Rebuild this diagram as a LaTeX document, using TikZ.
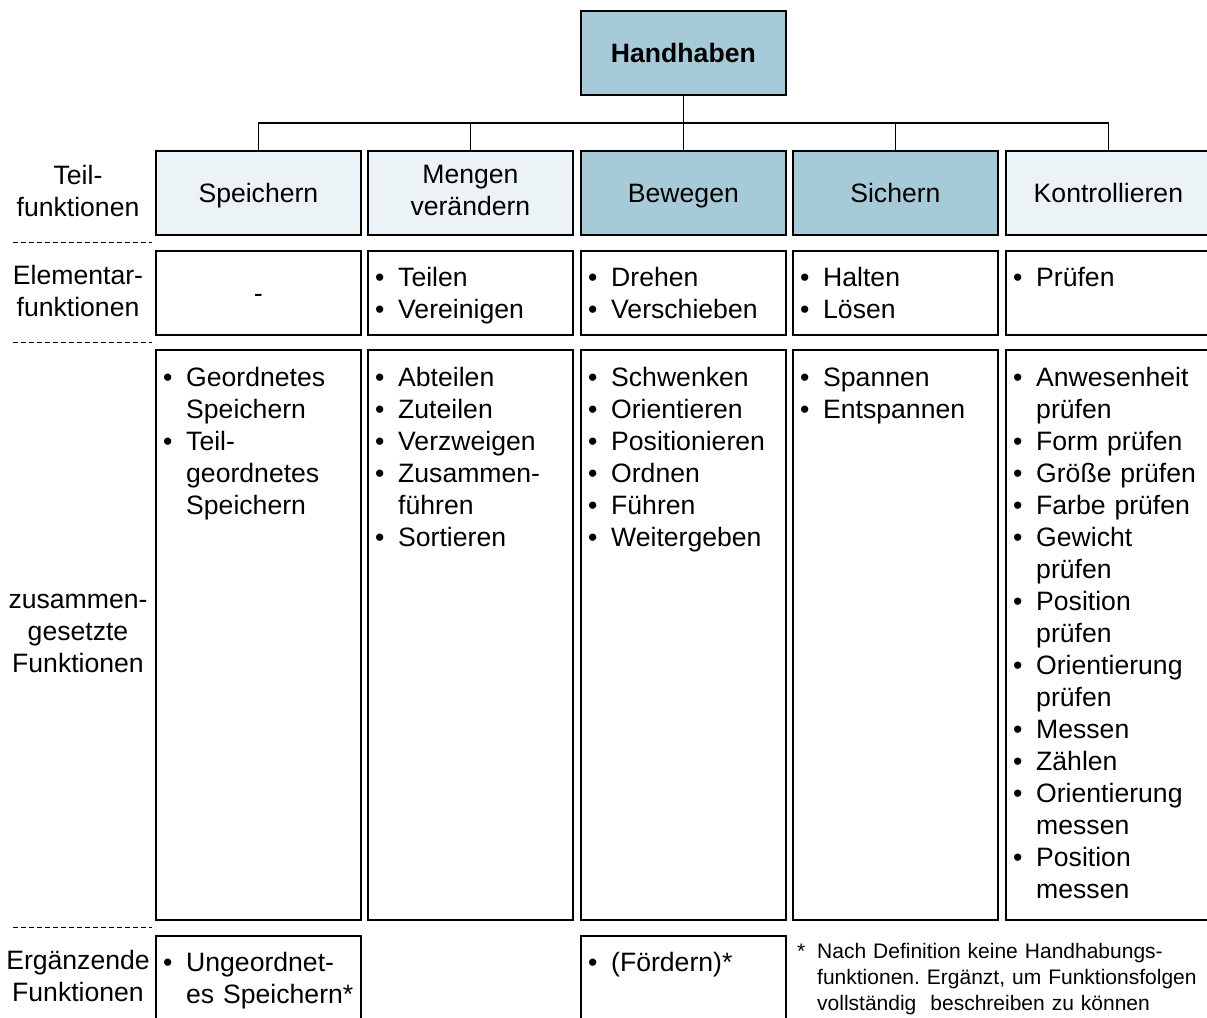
\documentclass[tikz,border=0pt]{standalone}
\usepackage{fontspec}
\setmainfont{Liberation Sans}
\frenchspacing
\newcommand\mainsize{\fontsize{26.6pt}{32pt}\selectfont}
\newcommand\notesize{\fontsize{21pt}{26pt}\selectfont}
% bullet entry with hanging indent for continuation lines
\newcommand\itm[1]{\hangindent=23pt\hangafter=1\noindent\makebox[23pt][l]{\textbullet}#1\par}
% invisible rule that gives every heading line the same height and depth
\newcommand\hstrut{\rule[-5pt]{0pt}{29pt}}
\definecolor{darkcell}{RGB}{167,202,216}
\definecolor{lightcell}{RGB}{235,243,246}
\begin{document}
\begin{tikzpicture}[x=1pt,y=-1pt,
  cell/.style={draw, line width=1.8pt, anchor=north west, inner sep=0pt,
               minimum width=205pt, font=\mainsize, align=center},
  headcell/.style={cell, minimum height=84pt,
               execute at begin node=\hstrut, execute at end node=\hstrut},
  lst/.style={anchor=base west, inner sep=0pt, text width=195pt, align=left, font=\mainsize},
  rowlabel/.style={align=center, inner sep=0pt, font=\mainsize,
               execute at begin node=\hstrut, execute at end node=\hstrut},
  link/.style={line width=1.8pt},
  sep/.style={line width=1pt, dash pattern=on 5pt off 3pt}]
\useasboundingbox (0,0) rectangle (1207,1017);
\clip (0,0) rectangle (1207,1017);

% root
\node[headcell, fill=darkcell, font=\mainsize\bfseries] (hh) at (580,10) {Handhaben};

% sub-functions
\node[headcell, fill=lightcell] (s1) at (155,150) {Speichern};
\node[headcell, fill=lightcell] (s2) at (367,150) {Mengen\\verändern};
\node[headcell, fill=darkcell]  (s3) at (580,150) {Bewegen};
\node[headcell, fill=darkcell]  (s4) at (792,150) {Sichern};
\node[headcell, fill=lightcell] (s5) at (1005,150) {Kontrollieren};

\foreach \s in {s1,s2,s3,s4,s5}
  \draw[link] (hh.south) -- ++(0,27) -| (\s.north);

% elementary functions
\node[headcell] (e1) at (155,250) {-};
\node[cell, minimum height=84pt] (e2) at (367,250) {};
\node[cell, minimum height=84pt] (e3) at (580,250) {};
\node[cell, minimum height=84pt] (e4) at (792,250) {};
\node[cell, minimum height=84pt] (e5) at (1005,250) {};
\node[lst] (te2) at (375,286) {\itm{Teilen}\itm{Vereinigen}};
\node[lst] (te3) at (588,286) {\itm{Drehen}\itm{Verschieben}};
\node[lst] (te4) at (800,286) {\itm{Halten}\itm{Lösen}};
\node[lst] (te5) at (1013,286) {\itm{Prüfen}};

% composite functions
\node[cell, minimum height=570pt] (c1) at (155,349) {};
\node[cell, minimum height=570pt] (c2) at (367,349) {};
\node[cell, minimum height=570pt] (c3) at (580,349) {};
\node[cell, minimum height=570pt] (c4) at (792,349) {};
\node[cell, minimum height=570pt] (c5) at (1005,349) {};
\node[lst] (tc1) at (163,386) {\itm{Geordnetes\newline Speichern}\itm{Teil-\newline geordnetes\newline Speichern}};
\node[lst] (tc2) at (375,386) {\itm{Abteilen}\itm{Zuteilen}\itm{Verzweigen}\itm{Zusammen-\newline führen}\itm{Sortieren}};
\node[lst] (tc3) at (588,386) {\itm{Schwenken}\itm{Orientieren}\itm{Positionieren}\itm{Ordnen}\itm{Führen}\itm{Weitergeben}};
\node[lst] (tc4) at (800,386) {\itm{Spannen}\itm{Entspannen}};
\node[lst] (tc5) at (1013,386) {\itm{Anwesenheit\newline prüfen}\itm{Form prüfen}\itm{Größe prüfen}\itm{Farbe prüfen}\itm{Gewicht\newline prüfen}\itm{Position\newline prüfen}\itm{Orientierung\newline prüfen}\itm{Messen}\itm{Zählen}\itm{Orientierung\newline messen}\itm{Position\newline messen}};

% supplementary functions
\node[cell, minimum height=95pt] (x1) at (155,935) {};
\node[cell, minimum height=95pt] (x3) at (580,935) {};
\node[lst] (tx1) at (163,971) {\itm{Ungeordnet-\newline es Speichern*}};
\node[lst] (tx3) at (588,971) {\itm{(Fördern)*}};

% footnote
\node[anchor=base west, inner sep=0pt, text width=410pt, align=left, font=\notesize] (note) at (797,958.5)
  {\hangindent=20pt\hangafter=1\noindent\makebox[20pt][l]{*}Nach Definition keine Handhabungs-\newline funktionen. Ergänzt, um Funktionsfolgen\newline vollständig\ \ beschreiben zu können\par};

% row labels and separators
\node[rowlabel] (l1) at (78,193.5) {Teil-\\funktionen};
\node[rowlabel] (l2) at (78,293.5) {Elementar-\\funktionen};
\node[rowlabel] (l3) at (78,636) {zusammen-\\gesetzte\\Funktionen};
\node[rowlabel] (l4) at (78,978.5) {Ergänzende\\Funktionen};
\draw[sep] (13,242) -- (152,242);
\draw[sep] (13,342) -- (152,342);
\draw[sep] (13,927) -- (152,927);
\end{tikzpicture}
\end{document}
